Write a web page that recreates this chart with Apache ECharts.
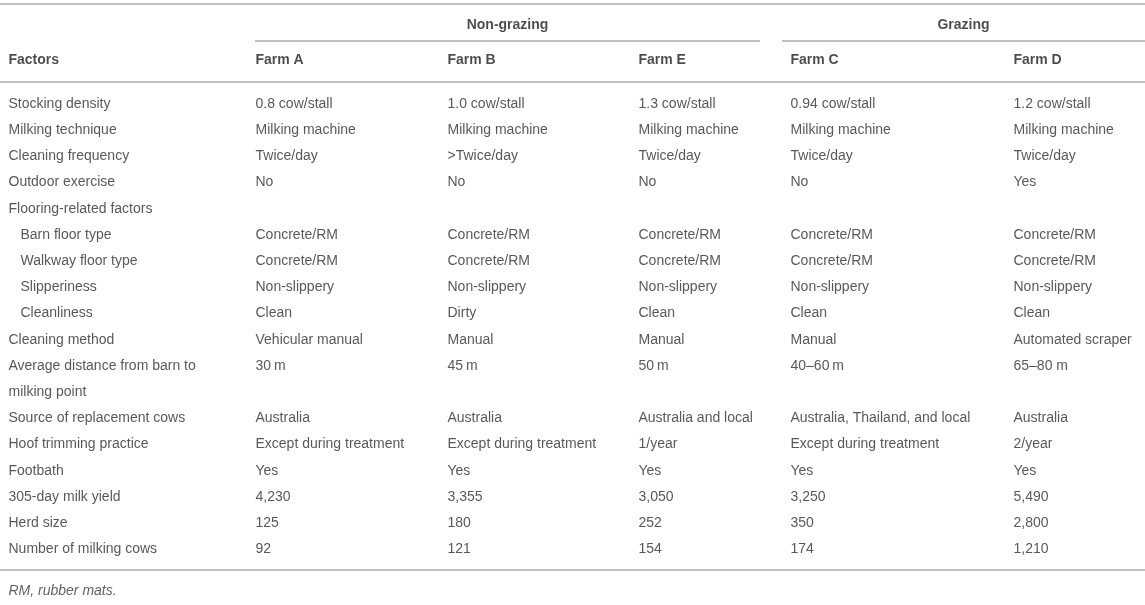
<!DOCTYPE html>
<html lang="en">
<head>
    <meta charset="UTF-8">
    <title>Farm characteristics</title>
    <style>
        html, body { margin: 0; padding: 0; background: #fff; }
        #main { width: 1145px; height: 605px; }
    </style>
</head>
<body>
    <div id="main"></div>
    <script src="https://cdn.jsdelivr.net/npm/echarts@6/dist/echarts.min.js"></script>
    <script>
    // table content
    var groups = ['Non-grazing', 'Grazing'];
    var columns = ['Factors', 'Farm A', 'Farm B', 'Farm E', 'Farm C', 'Farm D'];
    var factors = [
        'Stocking density', 'Milking technique', 'Cleaning frequency', 'Outdoor exercise',
        'Flooring-related factors', 'Barn floor type', 'Walkway floor type', 'Slipperiness',
        'Cleanliness', 'Cleaning method', 'Average distance from barn to\nmilking point',
        'Source of replacement cows', 'Hoof trimming practice', 'Footbath',
        '305-day milk yield', 'Herd size', 'Number of milking cows'
    ];
    var subFactors = ['Barn floor type', 'Walkway floor type', 'Slipperiness', 'Cleanliness'];
    var farmA = ['0.8 cow/stall', 'Milking machine', 'Twice/day', 'No', '', 'Concrete/RM', 'Concrete/RM',
        'Non-slippery', 'Clean', 'Vehicular manual', '30\u2009m', 'Australia', 'Except during treatment',
        'Yes', '4,230', '125', '92'];
    var farmB = ['1.0 cow/stall', 'Milking machine', '>Twice/day', 'No', '', 'Concrete/RM', 'Concrete/RM',
        'Non-slippery', 'Dirty', 'Manual', '45\u2009m', 'Australia', 'Except during treatment',
        'Yes', '3,355', '180', '121'];
    var farmE = ['1.3 cow/stall', 'Milking machine', 'Twice/day', 'No', '', 'Concrete/RM', 'Concrete/RM',
        'Non-slippery', 'Clean', 'Manual', '50\u2009m', 'Australia and local', '1/year',
        'Yes', '3,050', '252', '154'];
    var farmC = ['0.94 cow/stall', 'Milking machine', 'Twice/day', 'No', '', 'Concrete/RM', 'Concrete/RM',
        'Non-slippery', 'Clean', 'Manual', '40\u201360\u2009m', 'Australia, Thailand, and local', 'Except during treatment',
        'Yes', '3,250', '350', '174'];
    var farmD = ['1.2 cow/stall', 'Milking machine', 'Twice/day', 'Yes', '', 'Concrete/RM', 'Concrete/RM',
        'Non-slippery', 'Clean', 'Automated scraper', '65\u201380 m', 'Australia', '2/year',
        'Yes', '5,490', '2,800', '1,210'];
    var footnote = 'RM, rubber mats.';

    // layout (pixels)
    var colX = [8, 255, 447, 638, 790, 1013];
    var groupSpan = [[255, 760], [782, 1145]];
    var rowTop = 104, rowStep = 26.2;

    var dom = document.getElementById('main');
    var myChart = echarts.init(dom, null, { renderer: 'canvas' });

    var farms = [farmA, farmB, farmE, farmC, farmD];
    var texts = [];
    var rules = [];

    function addText(x, y, str, style) {
        texts.push({
            value: [x, y],
            label: Object.assign({ formatter: str }, style || {})
        });
    }

    var headStyle = { fontWeight: 'bold', color: '#1e1e1e' };

    // group headers with their underlines
    groups.forEach(function (g, i) {
        var mid = (groupSpan[i][0] + groupSpan[i][1]) / 2;
        addText(mid, 25, g, Object.assign({ position: 'inside', align: 'center' }, headStyle));
        rules.push({ coords: [[groupSpan[i][0], 41], [groupSpan[i][1], 41]] });
    });
    // column headers
    columns.forEach(function (c, i) {
        addText(colX[i], 60, c, headStyle);
    });

    // body rows
    var line = 0;
    factors.forEach(function (f, r) {
        var y = rowTop + line * rowStep;
        var parts = f.split('\n');
        var indent = subFactors.indexOf(f) >= 0 ? 12 : 0;
        parts.forEach(function (p, k) {
            addText(colX[0] + indent, y + k * rowStep, p);
        });
        farms.forEach(function (farm, c) {
            if (farm[r]) addText(colX[c + 1], y, farm[r]);
        });
        line += parts.length;
    });

    addText(colX[0], 591, footnote, { fontStyle: 'italic', color: '#3a3a3a' });

    rules.push({ coords: [[0, 4], [1145, 4]] });
    rules.push({ coords: [[0, 82], [1145, 82]] });
    rules.push({ coords: [[0, 570], [1145, 570]] });

    var option = {
        animation: false,
        grid: { left: 0, right: 0, top: 0, bottom: 0 },
        xAxis: { type: 'value', min: 0, max: 1145, show: false },
        yAxis: { type: 'value', min: 0, max: 605, inverse: true, show: false },
        series: [
            {
                type: 'lines',
                coordinateSystem: 'cartesian2d',
                silent: true,
                lineStyle: { color: '#ababab', width: 1.5, opacity: 1 },
                data: rules
            },
            {
                type: 'scatter',
                symbolSize: 1,
                silent: true,
                itemStyle: { color: 'rgba(0,0,0,0)' },
                label: {
                    show: true,
                    position: 'right',
                    distance: 0,
                    fontFamily: 'Liberation Sans, Arial, sans-serif',
                    fontSize: 14,
                    color: '#2e2e2e'
                },
                labelLayout: { hideOverlap: false },
                data: texts
            }
        ]
    };
    myChart.setOption(option);
    window.addEventListener('resize', myChart.resize);
    </script>
</body>
</html>
